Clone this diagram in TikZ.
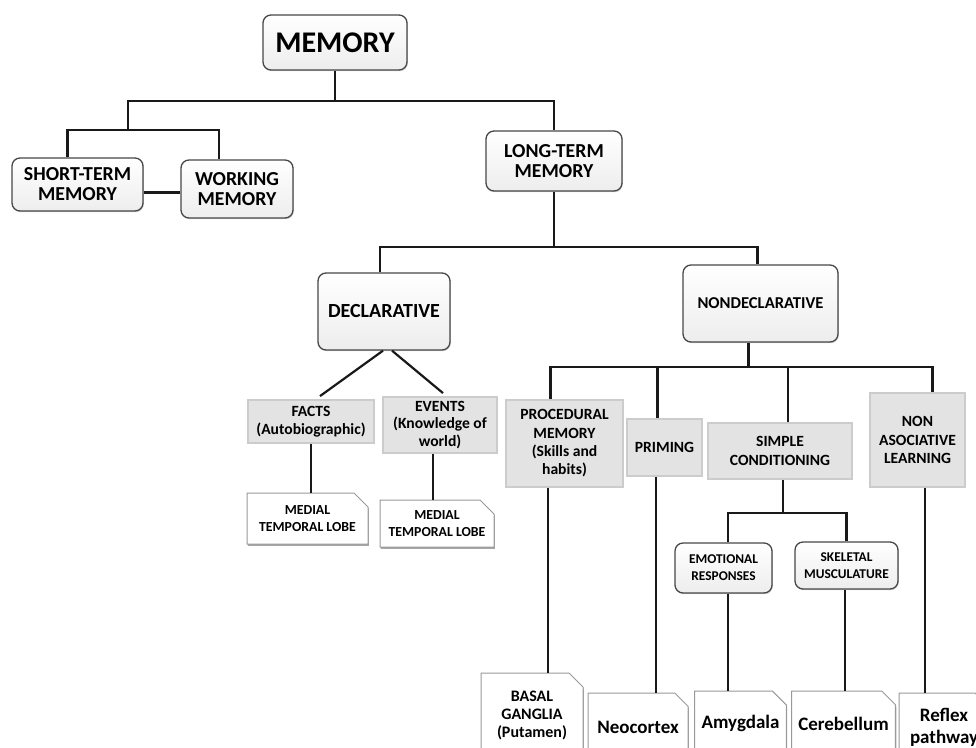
\documentclass[tikz,border=0pt]{standalone}
\usepackage{fontspec}
\setmainfont{Carlito}
\usetikzlibrary{shapes.misc,shadows}
\tikzset{
  rbox/.style={draw=black!72, line width=1.3pt, rounded corners=8pt,
    top color=white, bottom color=black!7, align=center, inner sep=0pt,
    drop shadow={shadow xshift=0.8pt, shadow yshift=-1.2pt, opacity=0.35}},
  gbox/.style={draw=black!20, line width=1.8pt, fill=black!11,
    align=center, inner sep=0pt},
  sbox/.style={chamfered rectangle, chamfered rectangle corners=north east,
    chamfered rectangle xsep=7pt, chamfered rectangle ysep=7pt,
    draw=black!40, line width=1pt, fill=white, align=center, inner sep=0pt,
    drop shadow={shadow xshift=0.8pt, shadow yshift=-1.8pt, opacity=0.7}},
  txt/.style 2 args={font=\bfseries\fontsize{#1}{#2}\selectfont},
  sz/.style 2 args={minimum width=#1pt, minimum height=#2pt},
  link/.style={line width=2.2pt, draw=black!90}
}

\begin{document}
\begin{tikzpicture}[x=1pt, y=-1pt]
  \useasboundingbox (0,0) rectangle (976,747);
  \clip (0,0) rectangle (976,747);

  % upper levels
  \node[rbox, sz={144}{55}, txt={30}{32}] (mem) at (335,42.5) {MEMORY};
  \node[rbox, sz={131}{53}, txt={19.8}{20}] (stm) at (77.5,184.5) {SHORT-TERM\\MEMORY};
  \node[rbox, sz={112}{58}, txt={19.8}{20}] (wm) at (237,189) {WORKING\\MEMORY};
  \node[rbox, sz={136}{60}, txt={19.8}{20}] (ltm) at (554,161) {LONG-TERM\\MEMORY};
  \node[rbox, sz={132}{77}, txt={20}{22}] (decl) at (384,311.5) {DECLARATIVE};
  \node[rbox, sz={155}{77}, txt={16.6}{20}] (nondecl) at (760.5,303.5) {NONDECLARATIVE};

  % declarative
  \node[gbox, sz={126}{43}, txt={15.6}{17.5}] (facts) at (311,421.5) {FACTS\\(Autobiographic)};
  \node[gbox, sz={114}{56}, txt={15.6}{17.5}] (events) at (440,425) {EVENTS\\(Knowledge of\\world)};
  \node[sbox, sz={121}{51}, txt={13.8}{17}] (mtlA) at (307.5,518.5) {MEDIAL\\TEMPORAL LOBE};
  \node[sbox, sz={114}{47}, txt={13.8}{17}] (mtlB) at (437,523.5) {MEDIAL\\TEMPORAL LOBE};

  % nondeclarative
  \node[gbox, sz={117}{87}, txt={15.6}{18.3}] (proc) at (564.5,443.5) {PROCEDURAL\\MEMORY\\(Skills and\\habits)};
  \node[gbox, sz={75}{57}, txt={15.6}{18.3}] (priming) at (664.5,447.5) {PRIMING};
  \node[gbox, sz={144}{56}, txt={15.6}{18.3}] (simple) at (780,451) {SIMPLE\\CONDITIONING};
  \node[gbox, sz={95}{94}, txt={15.6}{18.3}] (nonassoc) at (917.5,440) {NON\\ASOCIATIVE\\LEARNING};
  \node[rbox, sz={97}{50}, txt={13.4}{17}] (emo) at (723.5,568) {EMOTIONAL\\RESPONSES};
  \node[rbox, sz={103}{47}, txt={13.4}{17}] (skel) at (846.5,565.5) {SKELETAL\\MUSCULATURE};

  % brain structures
  \node[sbox, sz={102}{84}, txt={16}{18}] (basal) at (532,715) {BASAL\\GANGLIA\\(Putamen)};
  \node[sbox, sz={100}{68}, txt={19}{22}] (neo) at (638,727) {Neocortex};
  \node[sbox, sz={91}{64}, txt={19}{22}] (amyg) at (740.5,723) {Amygdala};
  \node[sbox, sz={103}{66}, txt={19}{22}] (cereb) at (843.5,724) {Cerebellum};
  \node[sbox, sz={90}{68}, txt={19}{22}] (reflex) at (944,727) {Reflex\\pathway};

  % memory -> short/long term
  \coordinate (sj) at (128,130);
  \draw[link] (mem.south) -- ++(0,30) coordinate (mb) -| (ltm.north);
  \draw[link] (mb) -| (sj);
  \draw[link] ([xshift=-10pt]stm.north) |- (sj) -| ([xshift=-18pt]wm.north);
  \draw[link] ([yshift=-8pt]stm.east) -- ([yshift=-8pt]stm.east -| wm.west);

  % long term
  \draw[link] (ltm.south) -- ++(0,55) coordinate (lb);
  \draw[link] ([xshift=-4pt]decl.north) |- (lb) -| ([xshift=-3pt]nondecl.north);

  % declarative
  \draw[link] ([xshift=-1pt]decl.south) -- ([xshift=9pt,yshift=3pt]facts.north);
  \draw[link] ([xshift=8pt]decl.south) -- ([xshift=3pt,yshift=3pt]events.north);
  \draw[link] (facts.south) -- (facts.south |- mtlA.north);
  \draw[link] ([xshift=-7pt]events.south) -- ([xshift=-7pt]events.south |- mtlB.north);

  % nondeclarative
  \draw[link] ([xshift=-12pt]nondecl.south) -- ++(0,24) coordinate (nb);
  \draw[link] ([xshift=-14pt]proc.north) |- (nb) -| ([xshift=15pt]nonassoc.north);
  \draw[link] ([xshift=-7pt]priming.north) -- ([xshift=-7pt]priming.north |- nb);
  \draw[link] ([xshift=8pt]simple.north) -- ([xshift=8pt]simple.north |- nb);
  \draw[link] ([xshift=3pt]simple.south) -- ++(0,33) coordinate (sb);
  \draw[link] ([xshift=4.5pt]emo.north) |- (sb) -| (skel.north);

  % down to the brain structures
  \draw[link] ([xshift=-16.5pt]proc.south) -- ([xshift=-16.5pt]proc.south |- basal.north);
  \draw[link] ([xshift=-8.5pt]priming.south) -- ([xshift=-8.5pt]priming.south |- neo.north);
  \draw[link] ([xshift=4.5pt]emo.south) -- ([xshift=4.5pt]emo.south |- amyg.north);
  \draw[link] ([xshift=-1.5pt]skel.south) -- ([xshift=-1.5pt]skel.south |- cereb.north);
  \draw[link] ([xshift=7.5pt]nonassoc.south) -- ([xshift=7.5pt]nonassoc.south |- reflex.north);
\end{tikzpicture}
\end{document}
